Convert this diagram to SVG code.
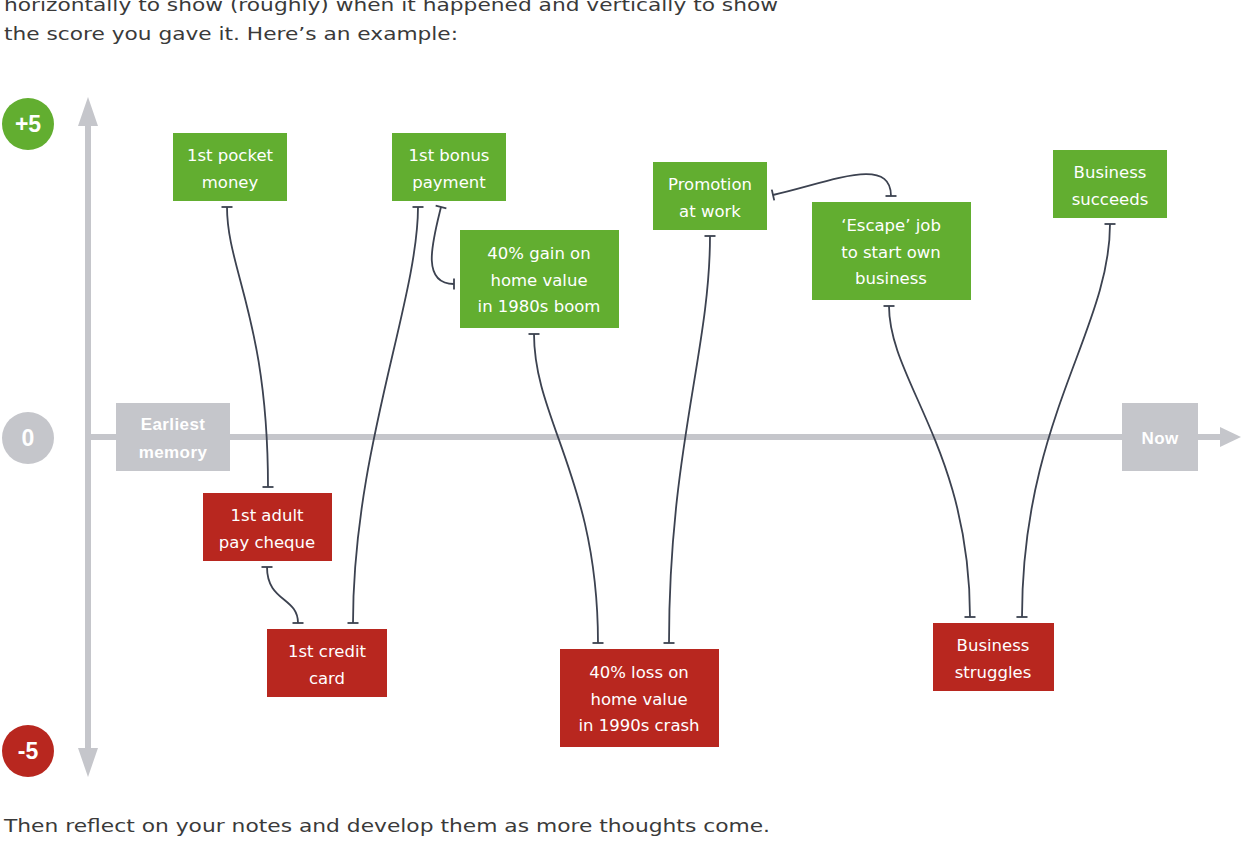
<svg xmlns="http://www.w3.org/2000/svg" width="1241" height="855" viewBox="0 0 1241 855">
<defs>
<style>
.body{font-family:"DejaVu Sans","Liberation Sans",sans-serif;font-size:18.5px;fill:#3a3a3a}
.lbl{font-family:"DejaVu Sans","Liberation Sans",sans-serif;font-size:16.5px;fill:#ffffff;text-anchor:middle}
.axl{font-family:"Liberation Sans",Arial,sans-serif;font-size:17px;font-weight:bold;fill:#ffffff;text-anchor:middle;letter-spacing:0.4px}
.num{font-family:"Liberation Sans",Arial,sans-serif;font-size:23px;font-weight:bold;fill:#ffffff;text-anchor:middle}
.g{fill:#62ae30}
.r{fill:#b8271f}
.gr{fill:#c5c6cb}
.axis{stroke:#c5c6cb;stroke-width:6;fill:none}
.c{stroke:#3c4250;stroke-width:1.8;fill:none;marker-start:url(#bar);marker-end:url(#bar)}
</style>
<marker id="bar" markerUnits="userSpaceOnUse" markerWidth="14" markerHeight="14" refX="7" refY="7" orient="auto" viewBox="0 0 14 14">
<line x1="7" y1="1.5" x2="7" y2="12.5" stroke="#3c4250" stroke-width="1.8"/>
</marker>
</defs>
<text class="body" x="4" y="11" textLength="774" lengthAdjust="spacingAndGlyphs">horizontally to show (roughly) when it happened and vertically to show</text>
<text class="body" x="4" y="40" textLength="454" lengthAdjust="spacingAndGlyphs">the score you gave it. Here’s an example:</text>
<text class="body" x="4" y="832" textLength="766" lengthAdjust="spacingAndGlyphs">Then reflect on your notes and develop them as more thoughts come.</text>

<g id="axes">
<line class="axis" x1="88" y1="122" x2="88" y2="752"/>
<polygon class="gr" points="88,97 98,126 78,126"/>
<polygon class="gr" points="88,777 98,748 78,748"/>
<line class="axis" x1="88" y1="437" x2="1222" y2="437"/>
<polygon class="gr" points="1241,437 1220,427 1220,447"/>
</g>
<g id="scale-plus5"><circle class="g" cx="28" cy="124" r="26"/><text class="num" x="28" y="132">+5</text></g>
<g id="scale-0"><circle class="gr" cx="28" cy="438" r="26"/><text class="num" x="28" y="446">0</text></g>
<g id="scale-minus5"><circle class="r" cx="28" cy="751" r="26"/><text class="num" x="28" y="759">-5</text></g>

<g id="earliest"><rect class="gr" x="116" y="403" width="114" height="68"/><text class="axl" x="173" y="430">Earliest</text><text class="axl" x="173" y="458">memory</text></g>
<g id="now"><rect class="gr" x="1122" y="403" width="76" height="68"/><text class="axl" x="1160" y="444">Now</text></g>

<g id="connectors">
<path class="c" d="M227,207 C227,270 268,320 268,487"/>
<path class="c" d="M267,567 C267,602 298,597 298,623"/>
<path class="c" d="M418,207 C418,300 353,450 353,623"/>
<path class="c" d="M441,207 C433,240 420,284 454,284"/>
<path class="c" d="M534,334 C534,420 598,480 598,643"/>
<path class="c" d="M710,236 C710,350 669,450 669,643"/>
<path class="c" d="M891,196 C891,155 830,182 773,195"/>
<path class="c" d="M889,306 C889,380 970,450 970,617"/>
<path class="c" d="M1110,224 C1110,330 1022,420 1022,617"/>
</g>

<g id="pocket-money"><rect class="g" x="173" y="133" width="114" height="68"/><text class="lbl" x="230" y="161">1st pocket</text><text class="lbl" x="230" y="188">money</text></g>
<g id="bonus"><rect class="g" x="392" y="133" width="114" height="68"/><text class="lbl" x="449" y="161">1st bonus</text><text class="lbl" x="449" y="188">payment</text></g>
<g id="gain"><rect class="g" x="460" y="230" width="159" height="98"/><text class="lbl" x="539" y="259">40% gain on</text><text class="lbl" x="539" y="286">home value</text><text class="lbl" x="539" y="312">in 1980s boom</text></g>
<g id="promotion"><rect class="g" x="653" y="162" width="114" height="68"/><text class="lbl" x="710" y="190">Promotion</text><text class="lbl" x="710" y="217">at work</text></g>
<g id="escape"><rect class="g" x="812" y="202" width="159" height="98"/><text class="lbl" x="891" y="231">‘Escape’ job</text><text class="lbl" x="891" y="258">to start own</text><text class="lbl" x="891" y="284">business</text></g>
<g id="succeeds"><rect class="g" x="1053" y="150" width="114" height="68"/><text class="lbl" x="1110" y="178">Business</text><text class="lbl" x="1110" y="205">succeeds</text></g>

<g id="pay-cheque"><rect class="r" x="203" y="493" width="129" height="68"/><text class="lbl" x="267" y="521">1st adult</text><text class="lbl" x="267" y="548">pay cheque</text></g>
<g id="credit-card"><rect class="r" x="267" y="629" width="120" height="68"/><text class="lbl" x="327" y="657">1st credit</text><text class="lbl" x="327" y="684">card</text></g>
<g id="loss"><rect class="r" x="560" y="649" width="159" height="98"/><text class="lbl" x="639" y="678">40% loss on</text><text class="lbl" x="639" y="705">home value</text><text class="lbl" x="639" y="731">in 1990s crash</text></g>
<g id="struggles"><rect class="r" x="933" y="623" width="121" height="68"/><text class="lbl" x="993" y="651">Business</text><text class="lbl" x="993" y="678">struggles</text></g>
</svg>
